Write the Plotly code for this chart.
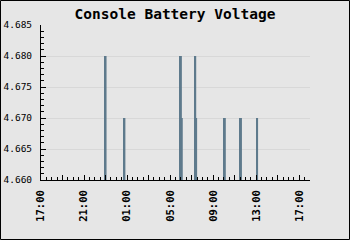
import plotly.graph_objects as go

# Data
times = ["2024-01-01 23:00", "2024-01-02 00:45", "2024-01-02 06:00", "2024-01-02 06:05",
         "2024-01-02 07:20", "2024-01-02 07:25", "2024-01-02 10:05", "2024-01-02 11:35",
         "2024-01-02 13:05"]
voltage = [4.680, 4.670, 4.680, 4.670, 4.680, 4.670, 4.670, 4.670, 4.670]

tick_times = ["2024-01-01 17:00", "2024-01-01 19:00", "2024-01-01 21:00", "2024-01-01 23:00",
              "2024-01-02 01:00", "2024-01-02 03:00", "2024-01-02 05:00", "2024-01-02 07:00",
              "2024-01-02 09:00", "2024-01-02 11:00", "2024-01-02 13:00", "2024-01-02 15:00",
              "2024-01-02 17:00"]
tick_labels = ["17:00", "", "21:00", "", "01:00", "", "05:00", "", "09:00", "", "13:00", "", "17:00"]

x_range = ["2024-01-01 17:00", "2024-01-02 18:00"]
y_range = [4.660, 4.685]

BG = "#e6e6e6"
BAR = "#5e7a8c"
W, H = 350, 240
L, R, T, B = 41, 40, 25, 60

fig = go.Figure()
fig.add_trace(go.Bar(
    x=times, y=voltage,
    width=[11 * 60 * 1000] * len(times),
    marker=dict(color=BAR, line=dict(width=0)),
))

pw = W - L - R
ph = H - T - B
fig.update_layout(
    width=W, height=H,
    margin=dict(l=L, r=R, t=T, b=B, autoexpand=False),
    paper_bgcolor=BG, plot_bgcolor=BG,
    showlegend=False,
    barmode="overlay",
    title=dict(text="Console Battery Voltage", x=0.5, xref="container", xanchor="center",
               y=1 - 8.5 / H, yref="container", yanchor="top",
               font=dict(family="DejaVu Sans Mono", size=14.5, color="black", weight="bold")),
    xaxis=dict(
        type="date", range=x_range, automargin=False,
        tickvals=tick_times, ticktext=tick_labels,
        tickangle=-90,
        ticks="inside", ticklen=5, tickwidth=1, tickcolor="black",
        minor=dict(dtick=30 * 60 * 1000, ticks="inside", ticklen=3, tickcolor="black", tickwidth=1, showgrid=False),
        showline=True, linecolor="black", linewidth=1,
        showgrid=False, zeroline=False,
        tickfont=dict(family="DejaVu Sans Mono", size=10.5, color="black", weight="bold"),
        ticklabelstandoff=5,
    ),
    yaxis=dict(
        range=y_range, dtick=0.005, tickformat=".3f", automargin=False,
        ticks="inside", ticklen=5, tickwidth=1, tickcolor="black",
        minor=dict(dtick=0.001, ticks="inside", ticklen=3, tickcolor="black", tickwidth=1, showgrid=False),
        showline=True, linecolor="black", linewidth=1,
        showgrid=True, gridcolor="#d8d8d8", gridwidth=1, zeroline=False,
        tickfont=dict(family="DejaVu Sans Mono", size=9.5, color="black"),
        ticklabelstandoff=6,
    ),
    shapes=[dict(type="rect", xref="paper", yref="paper",
                 x0=-(L - 0.5) / pw, x1=1 + (R - 0.5) / pw,
                 y0=-(B - 0.5) / ph, y1=1 + (T - 0.5) / ph,
                 line=dict(color="black", width=1), fillcolor="rgba(0,0,0,0)", layer="above")],
)

fig.write_html("out.html")
